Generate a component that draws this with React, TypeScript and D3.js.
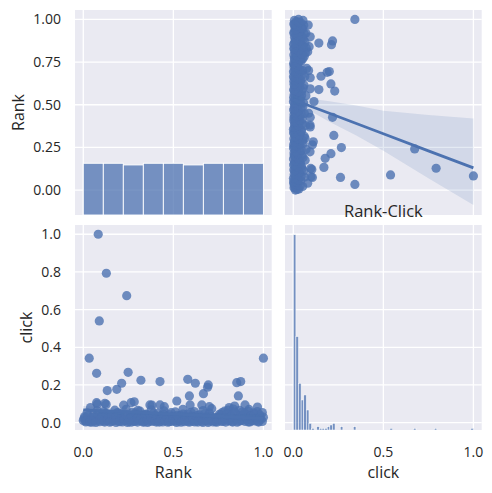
import React from 'react';
import * as d3 from 'd3';

// pair values: [Rank, click]
const points: [number, number][] = [
  [0.083, 1.0], [0.128, 0.793], [0.241, 0.674], [0.089, 0.54], [0.033, 0.342], [1.0, 0.342],
  [0.074, 0.262], [0.249, 0.267], [0.133, 0.17], [0.186, 0.177], [0.213, 0.209], [0.32, 0.225],
  [0.426, 0.218], [0.58, 0.23], [0.622, 0.209], [0.589, 0.142], [0.667, 0.154], [0.694, 0.2],
  [0.69, 0.188], [0.852, 0.212], [0.874, 0.218], [0.861, 0.142],
  [0.074, 0.106], [0.12, 0.103], [0.265, 0.106], [0.283, 0.111], [0.519, 0.115], [0.898, 0.094],
  [0.967, 0.083], [0.713, 0.074], [0.381, 0.093], [0.303, 0.065], [0.224, 0.093], [0.127, 0.097],
  [0.078, 0.098], [0.37, 0.094], [0.426, 0.094], [0.593, 0.094], [0.658, 0.094], [0.7, 0.085],
  [0.04, 0.08], [0.45, 0.085], [0.81, 0.08], [0.84, 0.088], [0.92, 0.07],
  [0.000, 0.012], [0.007, 0.031], [0.014, 0.004], [0.021, 0.052], [0.028, 0.018], [0.035, 0.007], [0.042, 0.026], [0.049, 0.002],
  [0.056, 0.041], [0.063, 0.015], [0.070, 0.009], [0.077, 0.063], [0.084, 0.022], [0.091, 0.005], [0.098, 0.036], [0.105, 0.013],
  [0.112, 0.058], [0.119, 0.003], [0.126, 0.027], [0.133, 0.011], [0.140, 0.045], [0.147, 0.019], [0.154, 0.006], [0.161, 0.033],
  [0.168, 0.014], [0.175, 0.066], [0.182, 0.001], [0.189, 0.024], [0.196, 0.009], [0.203, 0.048], [0.210, 0.017], [0.217, 0.004],
  [0.224, 0.038], [0.231, 0.012], [0.238, 0.071], [0.245, 0.021], [0.252, 0.006], [0.259, 0.029], [0.266, 0.002], [0.273, 0.055],
  [0.280, 0.016], [0.287, 0.008], [0.294, 0.034], [0.301, 0.003], [0.308, 0.023], [0.315, 0.061], [0.322, 0.010], [0.329, 0.040],
  [0.336, 0.005], [0.343, 0.019], [0.350, 0.046], [0.357, 0.001], [0.364, 0.028], [0.371, 0.013], [0.378, 0.068], [0.385, 0.007],
  [0.392, 0.032], [0.399, 0.015], [0.406, 0.003], [0.413, 0.050], [0.420, 0.020], [0.427, 0.009], [0.434, 0.037], [0.441, 0.004],
  [0.448, 0.062], [0.455, 0.011], [0.462, 0.025], [0.469, 0.002], [0.476, 0.043], [0.483, 0.017], [0.490, 0.006], [0.497, 0.030],
  [0.504, 0.013], [0.511, 0.057], [0.518, 0.001], [0.525, 0.022], [0.532, 0.008], [0.539, 0.039], [0.546, 0.014], [0.553, 0.070],
  [0.560, 0.005], [0.567, 0.026], [0.574, 0.010], [0.581, 0.047], [0.588, 0.002], [0.595, 0.018], [0.602, 0.035], [0.609, 0.007],
  [0.616, 0.059], [0.623, 0.012], [0.630, 0.028], [0.637, 0.003], [0.644, 0.042], [0.651, 0.016], [0.658, 0.006], [0.665, 0.064],
  [0.672, 0.021], [0.679, 0.009], [0.686, 0.033], [0.693, 0.001], [0.700, 0.051], [0.707, 0.014], [0.714, 0.024], [0.721, 0.004],
  [0.728, 0.011], [0.735, 0.005], [0.742, 0.019], [0.749, 0.030], [0.756, 0.044], [0.763, 0.008], [0.770, 0.053], [0.777, 0.015],
  [0.784, 0.061], [0.791, 0.003], [0.798, 0.027], [0.805, 0.067], [0.812, 0.012], [0.819, 0.040], [0.826, 0.006], [0.833, 0.072],
  [0.840, 0.018], [0.847, 0.049], [0.854, 0.002], [0.861, 0.031], [0.868, 0.065], [0.875, 0.010], [0.882, 0.056], [0.889, 0.023],
  [0.896, 0.007], [0.903, 0.045], [0.910, 0.015], [0.917, 0.060], [0.924, 0.004], [0.931, 0.036], [0.938, 0.013], [0.945, 0.052],
  [0.952, 0.009], [0.959, 0.025], [0.966, 0.058], [0.973, 0.003], [0.980, 0.041], [0.987, 0.017], [0.994, 0.006], [1.000, 0.029],
  [0.004, 0.021], [0.015, 0.009], [0.026, 0.038], [0.037, 0.003], [0.048, 0.017], [0.059, 0.028], [0.070, 0.001], [0.081, 0.044],
  [0.092, 0.016], [0.103, 0.030], [0.114, 0.008], [0.125, 0.049], [0.136, 0.020], [0.147, 0.002], [0.158, 0.040], [0.169, 0.010],
  [0.180, 0.032], [0.191, 0.054], [0.202, 0.005], [0.213, 0.026], [0.224, 0.014], [0.235, 0.045], [0.246, 0.001], [0.257, 0.018],
  [0.268, 0.036], [0.279, 0.007], [0.290, 0.052], [0.301, 0.024], [0.312, 0.011], [0.323, 0.031], [0.334, 0.002], [0.345, 0.043],
  [0.356, 0.016], [0.367, 0.006], [0.378, 0.027], [0.389, 0.050], [0.400, 0.009], [0.411, 0.034], [0.422, 0.003], [0.433, 0.021],
  [0.444, 0.044], [0.455, 0.012], [0.466, 0.029], [0.477, 0.005], [0.488, 0.053], [0.499, 0.018], [0.510, 0.008], [0.521, 0.039],
  [0.532, 0.025], [0.543, 0.002], [0.554, 0.046], [0.565, 0.015], [0.576, 0.030], [0.587, 0.006], [0.598, 0.055], [0.609, 0.020],
  [0.620, 0.004], [0.631, 0.037], [0.642, 0.011], [0.653, 0.026], [0.664, 0.001], [0.675, 0.048], [0.686, 0.017], [0.697, 0.008],
  [0.708, 0.034], [0.719, 0.013], [0.730, 0.027], [0.741, 0.002], [0.752, 0.016], [0.763, 0.041], [0.774, 0.006], [0.785, 0.022],
  [0.796, 0.047], [0.807, 0.010], [0.818, 0.029], [0.829, 0.003], [0.840, 0.056], [0.851, 0.019], [0.862, 0.008], [0.873, 0.038],
  [0.884, 0.014], [0.895, 0.050], [0.906, 0.026], [0.917, 0.004], [0.928, 0.033], [0.939, 0.011], [0.950, 0.045], [0.961, 0.020],
  [0.972, 0.007], [0.983, 0.031], [0.994, 0.054],
];

// histogram counts (diagonal)
const rankCounts = [31, 31, 30, 31, 31, 30, 31, 31, 31];
const clickCounts = [
  117, 56, 28, 18, 21, 12, 4, 1, 0, 2,
  1, 1, 1, 2, 3, 4, 0, 0, 2, 0,
  0, 0, 0, 2, 0, 0, 0, 0, 0, 0,
  0, 0, 0, 0, 0, 0, 0, 1, 0, 0,
  0, 0, 0, 0, 0, 0, 1, 0, 0, 0,
  0, 0, 0, 0, 1, 0, 0, 0, 0, 0,
  0, 0, 0, 0, 0, 0, 0, 0, 1,
];

// regression fits and confidence bands
const rcX = [0, 0.05, 0.1, 0.2, 0.35, 0.5, 0.75, 1.0];
const rcFit = [0.53, 0.51, 0.49, 0.45, 0.39, 0.33, 0.23, 0.13];
const rcLo = [0.505, 0.49, 0.46, 0.4, 0.32, 0.23, 0.07, -0.088];
const rcHi = [0.555, 0.545, 0.535, 0.52, 0.495, 0.465, 0.44, 0.42];
const crX = [0, 0.25, 0.5, 0.75, 1.0];
const crFit = [0.068, 0.057, 0.045, 0.034, 0.022];
const crLo = [0.05, 0.045, 0.036, 0.022, 0.004];
const crHi = [0.088, 0.07, 0.055, 0.047, 0.042];

const xTicks = [0, 0.5, 1.0];
const rankTicks = [0, 0.25, 0.5, 0.75, 1.0];
const clickTicks = [0, 0.2, 0.4, 0.6, 0.8, 1.0];

const BLUE = '#4c72b0';
const BG = '#eaeaf2';
const TXT = '#262626';
const FONT = '"Open Sans", "DejaVu Sans", sans-serif';

const cols = [[75, 271.7], [285, 481.7]];
const rows = [[10, 215], [225, 430]];

export default function App() {
  const xs = cols.map((c) => d3.scaleLinear().domain([-0.046, 1.046]).range(c));
  const yRank = d3.scaleLinear().domain([-0.146, 1.055]).range([rows[0][1], rows[0][0]]);
  const yClick = d3.scaleLinear().domain([-0.039, 1.049]).range([rows[1][1], rows[1][0]]);
  const yCount0 = d3.scaleLinear().domain([0, 117 * 1.05]).range([rows[0][1], rows[0][0]]);
  const yCount1 = d3.scaleLinear().domain([0, 117 * 1.05]).range([rows[1][1], rows[1][0]]);

  const panel = (ci: number, ri: number, xt: number[], yt: number[], ys: d3.ScaleLinear<number, number>) => {
    const [x0, x1] = cols[ci];
    const [y0, y1] = rows[ri];
    return (
      <g key={`p${ci}${ri}`}>
        <rect x={x0} y={y0} width={x1 - x0} height={y1 - y0} fill={BG} />
        {xt.map((t) => (
          <line key={'x' + t} x1={xs[ci](t)} x2={xs[ci](t)} y1={y0} y2={y1} stroke="white" strokeWidth={1.3} />
        ))}
        {yt.map((t) => (
          <line key={'y' + t} x1={x0} x2={x1} y1={ys(t)} y2={ys(t)} stroke="white" strokeWidth={1.3} />
        ))}
      </g>
    );
  };

  const band = (xv: number[], lo: number[], hi: number[], sx: d3.ScaleLinear<number, number>, sy: d3.ScaleLinear<number, number>) =>
    d3.area<number>().x((_, i) => sx(xv[i])).y0((_, i) => sy(lo[i])).y1((_, i) => sy(hi[i]))(xv) || '';
  const fit = (xv: number[], yv: number[], sx: d3.ScaleLinear<number, number>, sy: d3.ScaleLinear<number, number>) =>
    d3.line<number>().x((_, i) => sx(xv[i])).y((_, i) => sy(yv[i]))(xv) || '';

  const rankW = 1 / rankCounts.length;
  const clickW = 1 / clickCounts.length;

  return (
    <svg width={492} height={493} style={{ position: 'absolute', left: 0, top: 0, background: 'white' }} fontFamily={FONT}>
      <defs>
        {cols.map((c, ci) => rows.map((r, ri) => (
          <clipPath id={`c${ci}${ri}`} key={`c${ci}${ri}`}>
            <rect x={c[0]} y={r[0]} width={c[1] - c[0]} height={r[1] - r[0]} />
          </clipPath>
        )))}
      </defs>
      {panel(0, 0, xTicks, rankTicks, yRank)}
      {panel(1, 0, xTicks, rankTicks, yRank)}
      {panel(0, 1, xTicks, clickTicks, yClick)}
      {panel(1, 1, xTicks, clickTicks, yClick)}

      {/* Rank histogram */}
      <g clipPath="url(#c00)">
        {rankCounts.map((c, i) => (
          <rect key={i} x={xs[0](i * rankW)} width={xs[0](rankW) - xs[0](0)} y={yCount0(c)} height={yCount0(0) - yCount0(c)}
            fill={BLUE} fillOpacity={0.75} stroke="white" strokeWidth={0.9} />
        ))}
      </g>

      {/* Rank vs click scatter (top right) */}
      <g clipPath="url(#c10)">
        {points.map(([r, c], i) => (
          <circle key={i} cx={xs[1](c)} cy={yRank(r)} r={4.6} fill={BLUE} fillOpacity={0.8} />
        ))}
        <path d={band(rcX, rcLo, rcHi, xs[1], yRank)} fill={BLUE} fillOpacity={0.15} />
        <path d={fit(rcX, rcFit, xs[1], yRank)} fill="none" stroke={BLUE} strokeWidth={2.8} />
      </g>

      {/* click vs Rank scatter (bottom left) */}
      <g clipPath="url(#c01)">
        {points.map(([r, c], i) => (
          <circle key={i} cx={xs[0](r)} cy={yClick(c)} r={4.6} fill={BLUE} fillOpacity={0.8} />
        ))}
        <path d={band(crX, crLo, crHi, xs[0], yClick)} fill={BLUE} fillOpacity={0.15} />
        <path d={fit(crX, crFit, xs[0], yClick)} fill="none" stroke={BLUE} strokeWidth={2.8} />
      </g>

      {/* click histogram */}
      <g clipPath="url(#c11)">
        {clickCounts.map((c, i) => (
          <rect key={i} x={xs[1](i * clickW)} width={xs[1](clickW) - xs[1](0)} y={yCount1(c)} height={yCount1(0) - yCount1(c)}
            fill={BLUE} fillOpacity={0.75} stroke="white" strokeWidth={0.5} />
        ))}
      </g>

      {/* y tick labels */}
      {rankTicks.map((t) => (
        <text key={'ry' + t} x={61} y={yRank(t)} dy="0.35em" textAnchor="end" fontSize={14} fill={TXT}>{t.toFixed(2)}</text>
      ))}
      {clickTicks.map((t) => (
        <text key={'cy' + t} x={61} y={yClick(t)} dy="0.35em" textAnchor="end" fontSize={14} fill={TXT}>{t.toFixed(1)}</text>
      ))}
      {/* x tick labels */}
      {cols.map((_, ci) => xTicks.map((t) => (
        <text key={`xt${ci}${t}`} x={xs[ci](t)} y={457.3} textAnchor="middle" fontSize={14} fill={TXT}>{t.toFixed(1)}</text>
      )))}

      {/* axis labels */}
      <text transform={`translate(24,${(rows[0][0] + rows[0][1]) / 2}) rotate(-90)`} textAnchor="middle" fontSize={16} fill={TXT}>Rank</text>
      <text transform={`translate(32,${(rows[1][0] + rows[1][1]) / 2}) rotate(-90)`} textAnchor="middle" fontSize={16} fill={TXT}>click</text>
      <text x={(cols[0][0] + cols[0][1]) / 2} y={478} textAnchor="middle" fontSize={16} fill={TXT}>Rank</text>
      <text x={(cols[1][0] + cols[1][1]) / 2} y={478} textAnchor="middle" fontSize={16} fill={TXT}>click</text>

      {/* title of the lower right axes */}
      <text x={(cols[1][0] + cols[1][1]) / 2} y={216.5} textAnchor="middle" fontSize={16.5} fill={TXT}>Rank-Click</text>
    </svg>
  );
}
